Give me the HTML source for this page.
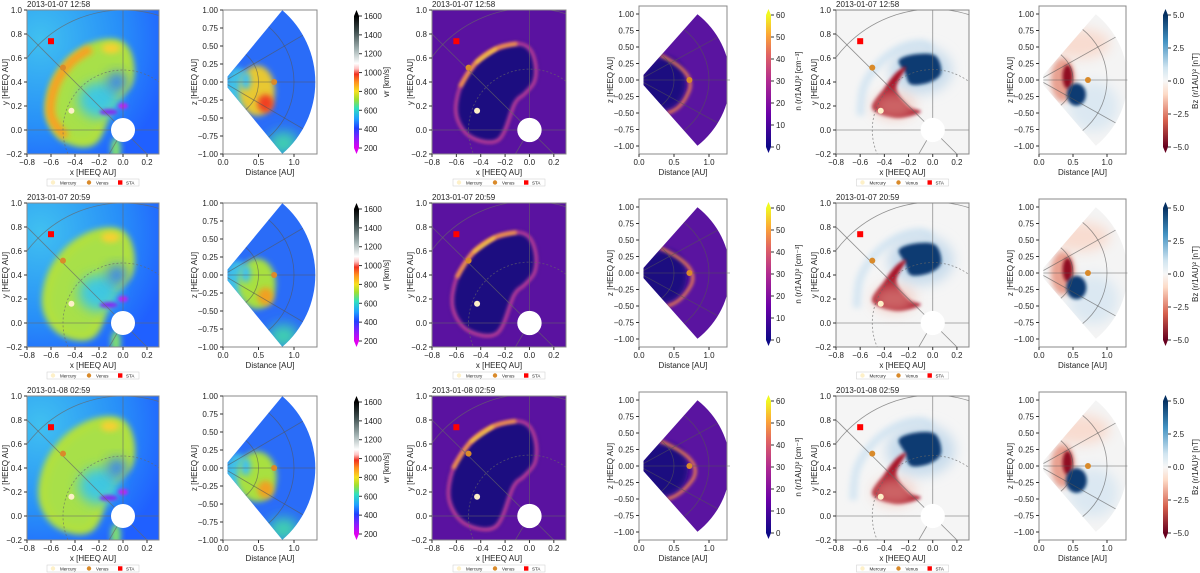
<!DOCTYPE html>
<html><head><meta charset="utf-8">
<style>
html,body{margin:0;background:#fff;overflow:hidden;width:1200px;height:573px;}
svg{display:block;overflow:hidden;font-family:"Liberation Sans","DejaVu Sans",sans-serif;}
</style></head>
<body>
<svg id="fig" width="1200" height="573" viewBox="0 0 1200 573" xmlns="http://www.w3.org/2000/svg">
<defs>
<filter id="b3" x="-50%" y="-50%" width="200%" height="200%"><feGaussianBlur stdDeviation="3"/></filter>
<filter id="b6" x="-50%" y="-50%" width="200%" height="200%"><feGaussianBlur stdDeviation="6"/></filter>
<filter id="b1" x="-50%" y="-50%" width="200%" height="200%"><feGaussianBlur stdDeviation="1.5"/></filter>
<linearGradient id="gvr" x1="0" y1="1" x2="0" y2="0">
<stop offset="0" stop-color="#e000f0"/><stop offset="0.08" stop-color="#8020ff"/><stop offset="0.15" stop-color="#2040ff"/><stop offset="0.22" stop-color="#20a0ff"/><stop offset="0.3" stop-color="#30e0c0"/><stop offset="0.37" stop-color="#a0e030"/><stop offset="0.43" stop-color="#f8e020"/><stop offset="0.5" stop-color="#ff9020"/><stop offset="0.56" stop-color="#f03020"/><stop offset="0.6" stop-color="#ffc0c0"/><stop offset="0.64" stop-color="#ffffff"/><stop offset="0.75" stop-color="#a0b0b0"/><stop offset="0.88" stop-color="#405050"/><stop offset="1" stop-color="#000"/>
</linearGradient>
<linearGradient id="gn" x1="0" y1="1" x2="0" y2="0">
<stop offset="0" stop-color="#0d0887"/><stop offset="0.25" stop-color="#6a00a8"/><stop offset="0.5" stop-color="#b12a90"/><stop offset="0.7" stop-color="#e16462"/><stop offset="0.85" stop-color="#fca636"/><stop offset="1" stop-color="#f0f921"/>
</linearGradient>
<linearGradient id="gb" x1="0" y1="1" x2="0" y2="0">
<stop offset="0" stop-color="#67001f"/><stop offset="0.2" stop-color="#d6604d"/><stop offset="0.4" stop-color="#fddbc7"/><stop offset="0.5" stop-color="#f7f7f7"/><stop offset="0.6" stop-color="#d1e5f0"/><stop offset="0.8" stop-color="#4393c3"/><stop offset="1" stop-color="#053061"/>
</linearGradient>
<radialGradient id="bgvr" cx="0.1" cy="0.2" r="1"><stop offset="0" stop-color="#40c0f0"/><stop offset="0.6" stop-color="#2890f8"/><stop offset="1" stop-color="#2060ff"/></radialGradient>
</defs>
</svg>
<script>
// ---- data ----
const rowTimes = ["2013-01-07 12:58","2013-01-07 20:59","2013-01-08 02:59"];
const rowTops = [10,203,396];
const rowGrowth = [1.0,1.05,1.1];
const xyTicksX = [-0.8,-0.6,-0.4,-0.2,0.0,0.2];
const xyTicksY = [-0.2,0.0,0.2,0.4,0.6,0.8,1.0];
const xzTicksX = [0.0,0.5,1.0];
const xzTicksY = [-1.0,-0.75,-0.5,-0.25,0.0,0.25,0.5,0.75,1.0];
const vrTicks = [200,400,600,800,1000,1200,1400,1600];
const nTicks = [0,10,20,30,40,50,60];
const bzTicks = [-5.0,-2.5,0.0,2.5,5.0];
const staPos = [-0.6,0.74];
const venusPos = [-0.5,0.52];
const mercuryPos = [-0.43,0.16];
const venusXZ = [0.72,0.0];
const cmeLoop = [[-0.25,-0.08],[-0.48,-0.06],[-0.6,0.12],[-0.57,0.36],[-0.44,0.56],[-0.27,0.68],[-0.1,0.72],[0.0,0.68],[0.05,0.55],[0.04,0.4],[-0.04,0.3],[-0.12,0.22]];

const svg=document.getElementById('fig');
const NS="http://www.w3.org/2000/svg";
function el(tag,attrs,parent){const e=document.createElementNS(NS,tag);for(const k in attrs)e.setAttribute(k,attrs[k]);(parent||svg).appendChild(e);return e;}
function txt(s,x,y,attrs,parent){const t=el('text',Object.assign({x:x,y:y,'font-size':8,fill:'#222'},attrs||{}),parent);t.textContent=s;return t;}
function fmt(v,d){let s=v.toFixed(d);return s.replace('-','\u2212');}
function smooth(p,closed){
  const n=p.length;let d='M'+p[0][0]+','+p[0][1];
  const last=closed?n:n-1;
  for(let i=0;i<last;i++){
    const p0=p[(i-1+n)%n],p1=p[i],p2=p[(i+1)%n],p3=p[(i+2)%n];
    const a0=(!closed&&i===0)?p1:p0, a3=(!closed&&i===n-2)?p2:p3;
    const c1=[p1[0]+(p2[0]-a0[0])/6,p1[1]+(p2[1]-a0[1])/6],c2=[p2[0]-(a3[0]-p1[0])/6,p2[1]-(a3[1]-p1[1])/6];
    d+=` C${c1[0]},${c1[1]} ${c2[0]},${c2[1]} ${p2[0]},${p2[1]}`;
  }
  return d+(closed?' Z':'');
}
let clipId=0;

function xyPanel(kind,L,R,top,row){
  const B=top+144;
  const sx=(R-L)/1.1, sy=144/1.2;
  const X=x=>L+(x+0.8)*sx, Y=y=>top+(1.0-y)*sy;
  const g=el('g',{});
  
  
  const cid='c'+(clipId++);
  const cp=el('clipPath',{id:cid},g);el('rect',{x:L,y:top,width:R-L,height:144},cp);
  const c=el('g',{'clip-path':'url(#'+cid+')'},g);
  const s=rowGrowth[row];
  const pts=cmeLoop.map(p=>[X(p[0]*s),Y(p[1]*s)]);
  const loopD=smooth(pts,true);
  const frontD=smooth(pts.slice(2,8),false);
  const brightD=smooth(pts.slice(3,7),false);
  if(kind==='vr'){
    el('rect',{x:L,y:top,width:R-L,height:144,fill:'url(#bgvr)'},c);
    el('path',{d:loopD,fill:'#a8e048',stroke:'#b0e040','stroke-width':10,filter:'url(#b3)'},c);
    el('ellipse',{cx:X(-0.2),cy:Y(0.25),rx:sx*0.17,ry:sy*0.15,fill:'#40c8e0',filter:'url(#b6)'},c);
    el('ellipse',{cx:X(-0.05),cy:Y(0.4),rx:sx*0.08,ry:sy*0.08,fill:'#3080f8',filter:'url(#b6)'},c);
    if(row===0) el('path',{d:smooth(pts.slice(1,6),false),fill:'none',stroke:'#f8a020','stroke-width':9,filter:'url(#b3)'},c);
    el('ellipse',{cx:X(-0.1*s),cy:Y(0.68*s),rx:9,ry:5,fill:'#f8d030',filter:'url(#b3)'},c);
    el('ellipse',{cx:X(-0.12),cy:Y(0.15),rx:9,ry:3,fill:'#8030f0',filter:'url(#b1)'},c);
    el('ellipse',{cx:X(0.0),cy:Y(0.2),rx:5,ry:3,fill:'#c020f0',filter:'url(#b1)'},c);
    el('ellipse',{cx:X(-0.06),cy:Y(-0.16),rx:5,ry:12,fill:'#80e070',filter:'url(#b3)'},c);
  } else if(kind==='n'){
    el('rect',{x:L,y:top,width:R-L,height:144,fill:'#5a12a0'},c);
    el('path',{d:loopD,fill:'#1e0a80',filter:'url(#b3)'},c);
    el('path',{d:loopD,fill:'none',stroke:'#c04098','stroke-width':3.5,filter:'url(#b1)'},c);
    el('path',{d:brightD,fill:'none',stroke:'#f8a040','stroke-width':3.5,filter:'url(#b1)'},c);
    el('path',{d:smooth(pts.slice(4,6),false),fill:'none',stroke:'#f8e040','stroke-width':2,filter:'url(#b1)'},c);
  } else {
    el('rect',{x:L,y:top,width:R-L,height:144,fill:'#f5f5f5'},c);
    el('path',{d:frontD,fill:'none',stroke:'#d6e6f2','stroke-width':8,filter:'url(#b3)'},c);
    el('ellipse',{cx:X(-0.1),cy:Y(0.5*s),rx:sx*0.26*s,ry:sy*0.2*s,fill:'#c8dcec',filter:'url(#b6)'},c);
    el('path',{d:smooth([[X(-0.28),Y(0.58*s)],[X(-0.15),Y(0.63*s)],[X(0.02),Y(0.62*s)],[X(0.07),Y(0.48*s)],[X(-0.02),Y(0.4*s)],[X(-0.18),Y(0.38*s)],[X(-0.23),Y(0.48*s)]],true),fill:'#0b3a72',filter:'url(#b1)'},c);
    el('path',{d:smooth([[X(-0.5),Y(0.18)],[X(-0.4),Y(0.35)],[X(-0.3),Y(0.48)],[X(-0.22),Y(0.52)],[X(-0.3),Y(0.35)],[X(-0.2),Y(0.2)],[X(-0.1),Y(0.15)],[X(-0.3),Y(0.1)]],true),fill:'#a8182a',filter:'url(#b1)'},c);
    el('ellipse',{cx:X(-0.32),cy:Y(0.2),rx:sx*0.18,ry:sy*0.12,fill:'#f0b0a0',opacity:0.5,filter:'url(#b6)'},c);
  }
  const gs={stroke:'#666','stroke-width':0.8,opacity:0.7,fill:'none'};
  el('circle',Object.assign({cx:X(0),cy:Y(0),r:sx*1.0},gs),c);
  el('circle',Object.assign({cx:X(0),cy:Y(0),r:sx*0.5,'stroke-dasharray':'2,2'},gs),c);
  [0,90,135,180,-45,-120].forEach(a=>{const r=a*Math.PI/180;el('line',Object.assign({x1:X(0),y1:Y(0),x2:X(2*Math.cos(r)),y2:Y(2*Math.sin(r))},gs),c);});
  el('circle',{cx:X(0),cy:Y(0),r:sx*0.1,fill:'#fff'},c);
  el('rect',{x:L,y:top,width:R-L,height:144,fill:'none',stroke:'#888','stroke-width':1},g);
  const m1=el('circle',{cx:X(mercuryPos[0]),cy:Y(mercuryPos[1]),r:3,fill:'#fdf0c8'},g);
  
  const m2=el('circle',{cx:X(venusPos[0]),cy:Y(venusPos[1]),r:3,fill:'#d98a2a'},g);
  
  const m3=el('rect',{x:X(staPos[0])-3,y:Y(staPos[1])-3,width:6,height:6,fill:'#f00'},g);
  
  xyTicksX.forEach(v=>{el('line',{x1:X(v),y1:B,x2:X(v),y2:B+3,stroke:'#333'},g);txt(fmt(v,1),X(v),B+11,{'text-anchor':'middle'},g);});
  xyTicksY.forEach(v=>{el('line',{x1:L-3,y1:Y(v),x2:L,y2:Y(v),stroke:'#333'},g);txt(fmt(v,1),L-5,Y(v)+3,{'text-anchor':'end'},g);});
  const xl=txt('x [HEEQ AU]',(L+R)/2,B+21,{'text-anchor':'middle'},g);
  
  const yl=txt('y [HEEQ AU]',0,0,{'text-anchor':'middle',transform:`translate(${L-19},${top+72}) rotate(-90)`},g);
  
  const tt=txt(rowTimes[row],L,top-3,{},g);
  
  const lx=(L+R)/2-46, ly=B+25;
  const lg=el('g',{},g);
  
  el('rect',{x:lx,y:ly,width:92,height:7,fill:'#fff',stroke:'#ccc','stroke-width':0.5},lg);
  el('circle',{cx:lx+6,cy:ly+3.5,r:2.2,fill:'#fdf0c8'},lg);txt('Mercury',lx+13,ly+5.3,{'font-size':4.5},lg);
  el('circle',{cx:lx+42,cy:ly+3.5,r:2.2,fill:'#d98a2a'},lg);txt('Venus',lx+49,ly+5.3,{'font-size':4.5},lg);
  el('rect',{x:lx+71,y:ly+1.3,width:4.4,height:4.4,fill:'#f00'},lg);txt('STA',lx+79,ly+5.3,{'font-size':4.5},lg);
}

function xzPanel(kind,L,x1au,top,row,pxPerAU,frameR,frameT,frameB){
  const X=d=>L+d*x1au, Z=z=>(frameT+frameB)/2-z*pxPerAU;
  const g=el('g',{});
  
  
  const cid='c'+(clipId++);
  const cp=el('clipPath',{id:cid},g);
  const a=50*Math.PI/180, r0=0.1, r1=1.3;
  const w=`M${X(r0*Math.cos(a))},${Z(r0*Math.sin(a))} L${X(r1*Math.cos(a))},${Z(r1*Math.sin(a))} A${r1*x1au},${r1*pxPerAU} 0 0 1 ${X(r1*Math.cos(a))},${Z(-r1*Math.sin(a))} L${X(r0*Math.cos(a))},${Z(-r0*Math.sin(a))} Z`;
  el('path',{d:w},cp);
  const c=el('g',{'clip-path':'url(#'+cid+')'},g);
  const s=rowGrowth[row];
  if(kind==='vr'){
    el('rect',{x:L,y:frameT,width:frameR-L,height:frameB-frameT,fill:'#2a6cf8'},c);
    el('ellipse',{cx:X(0.85),cy:Z(-0.85),rx:15,ry:12,fill:'#40d0b0',filter:'url(#b6)'},c);
    el('ellipse',{cx:X(0.2),cy:Z(-0.1),rx:12,ry:22,fill:'#40c0e8',filter:'url(#b3)'},c);
    el('ellipse',{cx:X(0.48),cy:Z(-0.12),rx:x1au*0.25*s,ry:pxPerAU*0.35,fill:row===0?'#e8c830':'#a8e040',filter:'url(#b3)'},c);
    el('ellipse',{cx:X(0.6),cy:Z(-0.3),rx:8,ry:9,fill:row===0?'#f04020':'#f0a020',filter:'url(#b3)'},c);
    el('ellipse',{cx:X(0.32),cy:Z(0.02),rx:5,ry:9,fill:'#40c0f0',filter:'url(#b3)'},c);
  } else if(kind==='n'){
    el('rect',{x:L,y:frameT,width:frameR-L,height:frameB-frameT,fill:'#5a14a0'},c);
    el('ellipse',{cx:X(0.35),cy:Z(-0.05),rx:x1au*0.32*s,ry:pxPerAU*0.4,fill:'#1a0a80',filter:'url(#b3)'},c);
    el('path',{d:`M${X(0.3)},${Z(0.38)} Q${X(0.85*s)},${Z(0.1)} ${X(0.7*s)},${Z(-0.2)} Q${X(0.6)},${Z(-0.45)} ${X(0.4)},${Z(-0.5)}`,fill:'none',stroke:'#f08050','stroke-width':3,filter:'url(#b1)'},c);
  } else {
    el('rect',{x:L,y:frameT,width:frameR-L,height:frameB-frameT,fill:'#f4f4f4'},c);
    el('ellipse',{cx:X(0.6),cy:Z(0.55),rx:30,ry:15,fill:'#f8dcd0',filter:'url(#b6)'},c);
    el('ellipse',{cx:X(0.8),cy:Z(-0.4),rx:25,ry:25,fill:'#dbe8f2',filter:'url(#b6)'},c);
    el('ellipse',{cx:X(0.35),cy:Z(0.0),rx:12,ry:22,fill:'#e8a090',filter:'url(#b3)'},c);
    el('ellipse',{cx:X(0.42),cy:Z(0.05),rx:5,ry:12,fill:'#900c20',filter:'url(#b1)'},c);
    el('ellipse',{cx:X(0.55),cy:Z(-0.22),rx:x1au*0.14*s,ry:pxPerAU*0.17*s,fill:'#0b3a72',filter:'url(#b1)'},c);
  }
  const gs={stroke:'#555','stroke-width':0.8,opacity:0.6,fill:'none'};
  [0.5,1.0].forEach(r=>el('ellipse',Object.assign({cx:X(0),cy:Z(0),rx:r*x1au,ry:r*pxPerAU},gs),c));
  [0,30,-30].forEach(d=>{const r=d*Math.PI/180;el('line',Object.assign({x1:X(0),y1:Z(0),x2:X(2*Math.cos(r)),y2:Z(2*Math.sin(r))},gs),c);});
  el('rect',{x:L,y:frameT,width:frameR-L,height:frameB-frameT,fill:'none',stroke:'#888'},g);
  const v=el('circle',{cx:X(venusXZ[0]),cy:Z(venusXZ[1]),r:3,fill:'#d98a2a'},g);
  
  xzTicksX.forEach(t=>{el('line',{x1:X(t),y1:frameB,x2:X(t),y2:frameB+3,stroke:'#333'},g);txt(fmt(t,1),X(t),frameB+11,{'text-anchor':'middle'},g);});
  xzTicksY.forEach(t=>{el('line',{x1:L-3,y1:Z(t),x2:L,y2:Z(t),stroke:'#333'},g);txt(fmt(t,2),L-5,Z(t)+3,{'text-anchor':'end'},g);});
  const xl=txt('Distance [AU]',(L+frameR)/2,frameB+21,{'text-anchor':'middle'},g);
  
  const yl=txt('z [HEEQ AU]',0,0,{'text-anchor':'middle',transform:`translate(${L-26},${(frameT+frameB)/2}) rotate(-90)`},g);
  
}

function colorbar(grad,L,t0,t1,ticks,dec,label,name){
  const g=el('g',{});
  
  el('rect',{x:L,y:t0,width:5,height:t1-t0,fill:'url(#'+grad+')'},g);
  const lo=ticks[0],hi=ticks[ticks.length-1];
  const topC=grad==='gvr'?'#000':(grad==='gn'?'#f0f921':'#053061');
  const botC=grad==='gvr'?'#e000f0':(grad==='gn'?'#0d0887':'#67001f');
  el('path',{d:`M${L},${t0} L${L+2.5},${t0-6} L${L+5},${t0} Z`,fill:topC},g);
  el('path',{d:`M${L},${t1} L${L+2.5},${t1+6} L${L+5},${t1} Z`,fill:botC},g);
  ticks.forEach(v=>{const y=t1-(v-lo)/(hi-lo)*(t1-t0);el('line',{x1:L+5,y1:y,x2:L+8,y2:y,stroke:'#333'},g);txt(fmt(v,dec),L+10,y+3,{},g);});
  txt(label,0,0,{'text-anchor':'middle',transform:`translate(${L+35},${(t0+t1)/2}) rotate(-90)`},g);
}

rowTops.forEach((top,row)=>{
  xyPanel('vr',27,159,top,row);
  xzPanel('vr',223,71,top,row,72,317,top,top+144);
  colorbar('gvr',354,top+6,top+138,vrTicks,0,'vr  [km/s]','vr-colorbar');
  xyPanel('n',432,566,top,row);
  xzPanel('n',639,70,top,row,66,727,top-4,top+144);
  colorbar('gn',766,top+5,top+137,nTicks,0,'n (r/1AU)\u00b2  [cm\u207b\u00b3]','density-colorbar');
  xyPanel('bz',836,969,top,row);
  xzPanel('bz',1039,68,top,row,66,1126,top-4,top+144);
  colorbar('gb',1163,top+5,top+137,bzTicks,1,'Bz (r/1AU)\u00b2  [nT]','bz-colorbar');
});
</script>
</body></html>
